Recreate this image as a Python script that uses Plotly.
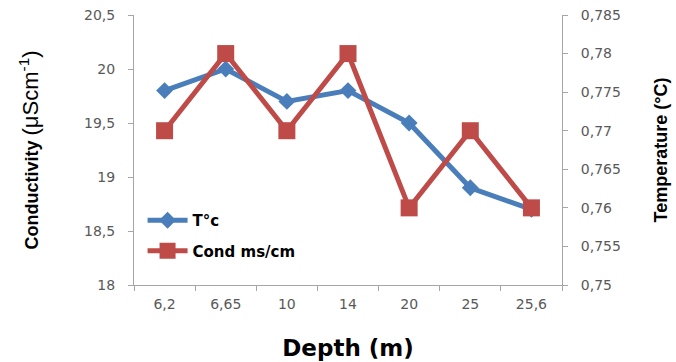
import plotly.graph_objects as go

depth_labels = ["6,2", "6,65", "10", "14", "20", "25", "25,6"]
t_c = [19.8, 20.0, 19.7, 19.8, 19.5, 18.9, 18.7]
cond = [0.77, 0.78, 0.77, 0.78, 0.76, 0.77, 0.76]
left_ticks = [18, 18.5, 19, 19.5, 20, 20.5]
left_labels = ["18", "18,5", "19", "19,5", "20", "20,5"]
right_ticks = [0.75, 0.755, 0.76, 0.765, 0.77, 0.775, 0.78, 0.785]
right_labels = ["0,75", "0,755", "0,76", "0,765", "0,77", "0,775", "0,78", "0,785"]

blue = "#4A7EBB"
red = "#BE4B48"

fig = go.Figure()
fig.add_trace(go.Scatter(x=depth_labels, y=t_c, name="T°c", mode="lines+markers",
                         legendgroup="a",
                         line=dict(color=blue, width=5),
                         marker=dict(symbol="diamond", size=13, color=blue),
                         yaxis="y"))
fig.add_trace(go.Scatter(x=depth_labels, y=cond, name="Cond ms/cm", mode="lines+markers",
                         legendgroup="b",
                         line=dict(color=red, width=5),
                         marker=dict(symbol="square", size=17, color=red),
                         yaxis="y2"))

tickfont = dict(family="DejaVu Sans", size=14, color="#595959")
fig.update_layout(
    width=676, height=362,
    margin=dict(l=134, r=114, t=15, b=77, autoexpand=False),
    paper_bgcolor="white", plot_bgcolor="white",
    showlegend=True,
    legend=dict(x=0.02, y=0.3, xanchor="left", yanchor="top",
                font=dict(family="DejaVu Sans", size=15, color="black", weight="bold"),
                bgcolor="rgba(0,0,0,0)", itemwidth=40, tracegroupgap=8,
                traceorder="grouped"),
    xaxis=dict(type="category", range=[-0.5, 6.5], tickson="boundaries", automargin=False,
               ticks="outside", ticklen=5, tickcolor="#A6A6A6",
               showline=True, linecolor="#A6A6A6", linewidth=1,
               showgrid=False, tickfont=tickfont, ticklabelstandoff=6,
               title=dict(text="Depth (m)", standoff=29,
                          font=dict(family="DejaVu Sans", size=23, color="black", weight="bold"))),
    yaxis=dict(range=[18, 20.5], tickvals=left_ticks, ticktext=left_labels, automargin=False,
               ticks="outside", ticklen=5, tickcolor="#A6A6A6",
               showline=True, linecolor="#A6A6A6", linewidth=1,
               showgrid=False, zeroline=False, tickfont=tickfont, ticklabelstandoff=10,
               title=dict(text="<b>Conductivity</b> <span style='font-size:22px'>(μScm<sup>-1</sup>)</span>",
                          standoff=40,
                          font=dict(family="Liberation Sans Narrow, Liberation Sans", size=18, color="black"))),
    yaxis2=dict(range=[0.75, 0.785], tickvals=right_ticks, ticktext=right_labels, automargin=False,
                overlaying="y", side="right",
                ticks="outside", ticklen=5, tickcolor="#A6A6A6",
                showline=True, linecolor="#A6A6A6", linewidth=1,
                showgrid=False, zeroline=False, tickfont=tickfont, ticklabelstandoff=10,
                title=dict(text="Temperature (°C)", standoff=34,
                           font=dict(family="Liberation Sans", size=18, color="black", weight="bold"))),
)

fig.write_html("out.html")
